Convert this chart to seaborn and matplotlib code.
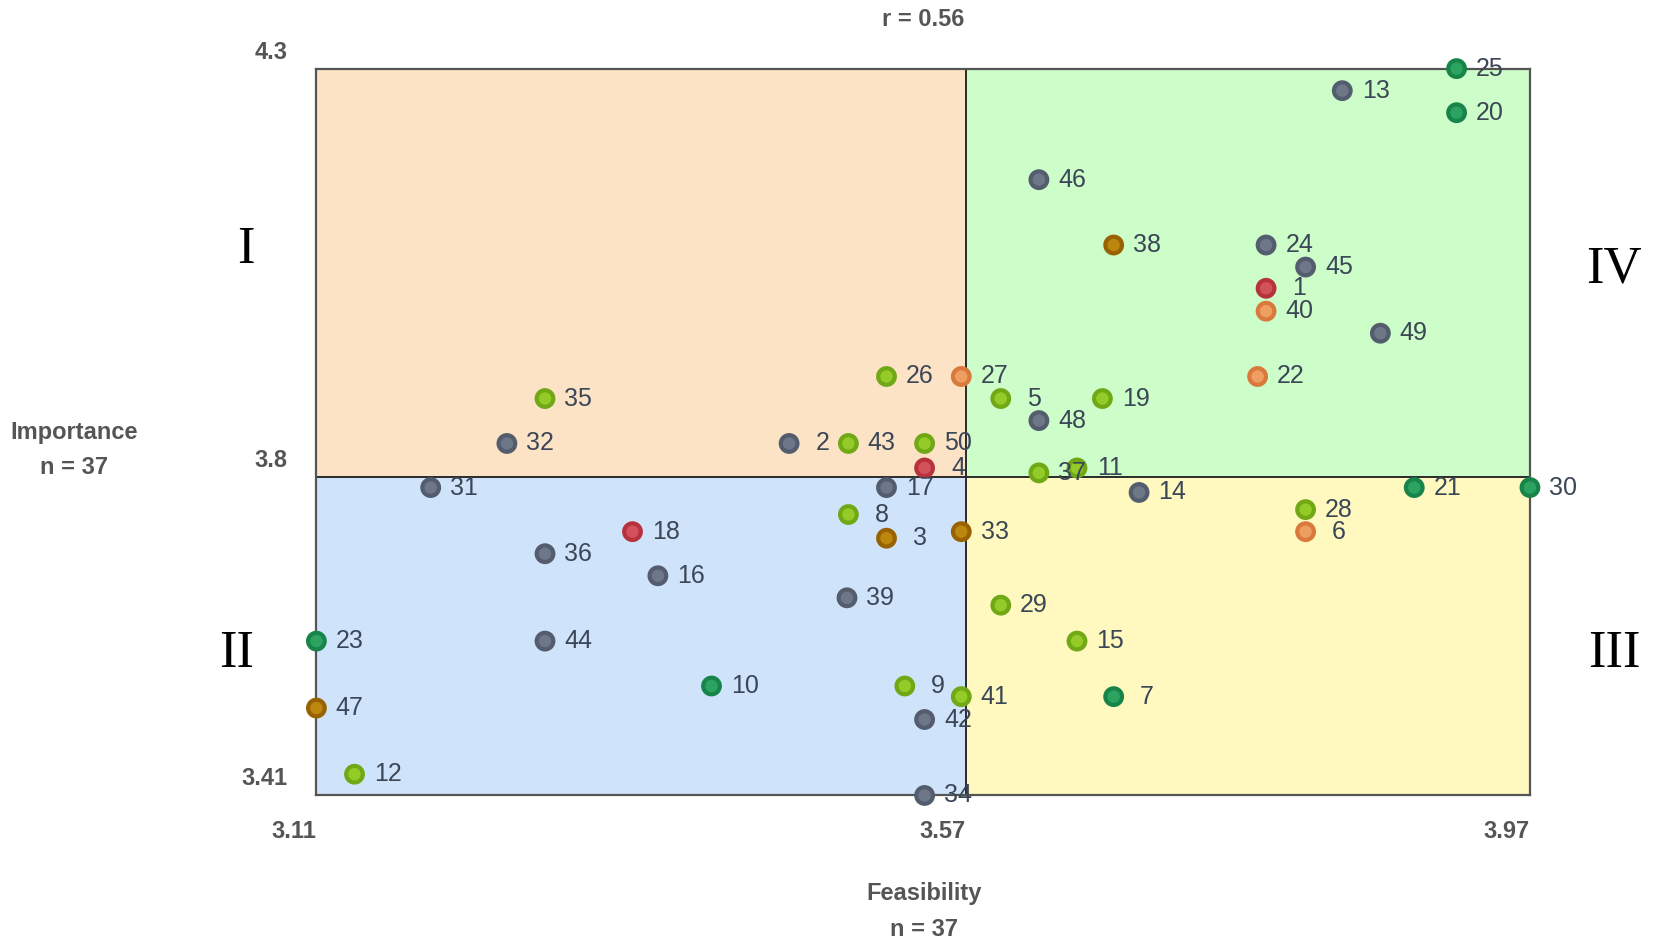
import numpy as np
import pandas as pd
import seaborn as sns
import matplotlib.pyplot as plt
from matplotlib.patches import Rectangle
from matplotlib.transforms import ScaledTranslation

# item numbers, mean feasibility (x), mean importance (y), colour group
ids = list(range(1, 51))
feasibility = [3.783, 3.445, 3.514, 3.541, 3.595, 3.811, 3.675, 3.487, 3.527, 3.390,
               3.649, 3.137, 3.837, 3.693, 3.649, 3.352, 3.514, 3.334, 3.667, 3.918,
               3.888, 3.777, 3.110, 3.783, 3.918, 3.514, 3.567, 3.811, 3.595, 3.970,
               3.191, 3.245, 3.567, 3.541, 3.272, 3.272, 3.622, 3.675, 3.486, 3.783,
               3.567, 3.541, 3.487, 3.272, 3.811, 3.622, 3.110, 3.622, 3.864, 3.541]
importance = [4.031, 3.841, 3.725, 3.811, 3.896, 3.733, 3.531, 3.754, 3.544, 3.544,
              3.811, 3.436, 4.273, 3.781, 3.599, 3.679, 3.787, 3.733, 3.896, 4.246,
              3.787, 3.923, 3.599, 4.084, 4.300, 3.923, 3.923, 3.760, 3.643, 3.787,
              3.787, 3.841, 3.733, 3.410, 3.896, 3.706, 3.805, 4.084, 3.652, 4.003,
              3.531, 3.503, 3.841, 3.599, 4.057, 4.164, 3.517, 3.869, 3.976, 3.841]
group = ["red", "slate", "brown", "red", "lime", "orange", "green", "lime", "lime", "green",
         "lime", "lime", "slate", "slate", "lime", "slate", "slate", "red", "lime", "green",
         "green", "orange", "green", "slate", "green", "lime", "orange", "lime", "lime", "green",
         "slate", "slate", "brown", "slate", "lime", "slate", "lime", "brown", "slate", "orange",
         "lime", "slate", "lime", "slate", "slate", "slate", "brown", "slate", "slate", "lime"]

x_ticks = [3.11, 3.57, 3.97]
y_ticks = [3.41, 3.8, 4.3]
x_split, y_split = 3.57, 3.8
r_value = 0.56
n_resp = 37

outer_pal = {"slate": "#535d6d", "lime": "#70a816", "green": "#17844a",
             "orange": "#d9793c", "brown": "#986200", "red": "#b7323c"}
inner_pal = {"slate": "#6d7787", "lime": "#94cb28", "green": "#2da361",
             "orange": "#ef9e62", "brown": "#bd870f", "red": "#d2525c"}

df = pd.DataFrame({"id": ids, "feasibility": feasibility,
                   "importance": importance, "group": group})

sns.set_theme(style="white")
plt.rcParams["font.family"] = ["Liberation Sans", "DejaVu Sans"]

fig = plt.figure(figsize=(16.54, 9.49), dpi=100)
ax = fig.add_axes([0.1913, 0.1618, 0.7337, 0.7659])

x0, x1 = x_ticks[0], x_ticks[-1]
y0, y1 = y_ticks[0], y_ticks[-1]
ax.set_xlim(x0, x1)
ax.set_ylim(y0, y1)

# quadrant backgrounds
quads = [((x0, y_split), x_split - x0, y1 - y_split, "#fde3c6"),
         ((x_split, y_split), x1 - x_split, y1 - y_split, "#cdfdc8"),
         ((x0, y0), x_split - x0, y_split - y0, "#cfe4fb"),
         ((x_split, y0), x1 - x_split, y_split - y0, "#fff9bf")]
for xy, w, h, c in quads:
    ax.add_patch(Rectangle(xy, w, h, facecolor=c, edgecolor="none", zorder=0))
ax.axvline(x_split, color="#2a2a2a", lw=1.4, zorder=1)
ax.axhline(y_split, color="#2a2a2a", lw=1.4, zorder=1)
for sp in ax.spines.values():
    sp.set_color("#555555")
    sp.set_linewidth(1.6)

sns.scatterplot(data=df, x="feasibility", y="importance", hue="group",
                palette=outer_pal, s=225, linewidth=0, legend=False,
                clip_on=False, zorder=3, ax=ax)
sns.scatterplot(data=df, x="feasibility", y="importance", hue="group",
                palette=inner_pal, s=80, linewidth=0, legend=False,
                clip_on=False, zorder=4, ax=ax)

for _, row in df.iterrows():
    ax.annotate(str(row["id"]), (row["feasibility"], row["importance"]),
                xytext=(24, 0), textcoords="offset points", ha="center",
                va="center", fontsize=18, color="#3b4656", zorder=5,
                annotation_clip=False)

# ticks as corner labels
ax.set_xticks(x_ticks)
ax.set_xticklabels([f"{v:g}" for v in x_ticks])
ax.set_yticks(y_ticks)
ax.set_yticklabels([f"{v:g}" for v in y_ticks])
ax.tick_params(axis="x", length=0, pad=18, labelsize=17, labelcolor="#555555")
ax.tick_params(axis="y", length=0, pad=21, labelsize=17, labelcolor="#555555")
for lab in ax.get_xticklabels():
    lab.set_ha("right")
    lab.set_fontweight("bold")
lift = ScaledTranslation(0, 0.05, fig.dpi_scale_trans)
for lab in ax.get_yticklabels():
    lab.set_va("bottom")
    lab.set_fontweight("bold")
    lab.set_transform(lab.get_transform() + lift)
ax.set_xlabel("")
ax.set_ylabel("")

# titles
tkw = dict(transform=ax.transAxes, ha="center", va="center", fontsize=17,
           color="#555555", fontweight="bold")
ax.text(0.5, 1.067, f"r = {r_value}", **tkw)
ax.text(-0.2, 0.499, "Importance", **tkw)
ax.text(-0.2, 0.451, f"n = {n_resp}", **tkw)
ax.text(0.501, -0.135, "Feasibility", **tkw)
ax.text(0.501, -0.184, f"n = {n_resp}", **tkw)

# quadrant numerals
rkw = dict(transform=ax.transAxes, ha="center", va="center", fontsize=38,
           color="black", family=["Liberation Serif", "DejaVu Serif"])
ax.text(-0.058, 0.750, "I", **rkw)
ax.text(-0.066, 0.194, "II", **rkw)
ax.text(1.0696, 0.194, "III", **rkw)
ax.text(1.0696, 0.724, "IV", **rkw)

fig.savefig("out.png", dpi=100)
